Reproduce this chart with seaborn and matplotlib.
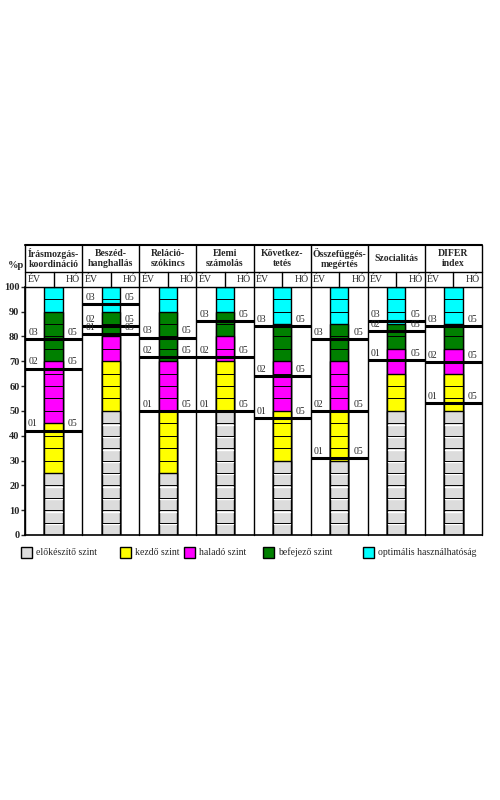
import matplotlib
matplotlib.use('Agg')
import matplotlib.pyplot as plt
from matplotlib.patches import Rectangle
import seaborn as sns
import pandas as pd
import numpy as np

# ---------------- data ----------------
categories = ["Írásmozgás-\nkoordináció", "Beszéd-\nhanghallás", "Reláció-\nszókincs",
              "Elemi\nszámolás", "Következ-\ntetés", "Összefüggés-\nmegértés",
              "Szocialitás", "DIFER\nindex"]
gray_top = [25, 50, 25, 50, 30, 30, 50, 50]
yellow_top = [45, 70, 50, 70, 50, 50, 65, 65]
magenta_top = [70, 80, 70, 80, 70, 70, 75, 75]
green_top = [90, 90, 90, 90, 85, 85, 85, 85]
cyan_top = [100, 100, 100, 100, 100, 100, 100, 100]
level_01 = [42, 81, 50, 50, 47, 31, 70.5, 53]
level_02 = [67, 84, 71.5, 71.5, 64, 50, 82, 69.5]
level_03 = [79, 93, 79.5, 86, 84, 79, 86, 84]
level_names = ["01", "02", "03"]
right_label = "05"
sub_headers = ["ÉV", "HÓ"]
yticks = list(range(0, 101, 10))
y_unit = "%p"
legend_labels = ["előkészítő szint", "kezdő szint", "haladó szint",
                 "befejező szint", "optimális használhatóság"]
colors = ['#dcdcdc', '#ffff00', '#ff00ff', '#008000', '#00ffff']

# ---------------- style ----------------
sns.set_theme(style='white')
plt.rcParams['font.family'] = ['Liberation Serif', 'DejaVu Serif']

fig = plt.figure(figsize=(5, 8), dpi=100)
fig.patch.set_facecolor('white')
ax = fig.add_axes([25 / 500, 1 - 535 / 800, 457 / 500, 248.3 / 800])

keys = [c.replace("\n", " ") for c in categories]
df = pd.DataFrame({'cat': keys, 'gray': gray_top, 'yellow': yellow_top,
                   'magenta': magenta_top, 'green': green_top, 'cyan': cyan_top})

bw = 0.32
for col, c in zip(['cyan', 'green', 'magenta', 'yellow', 'gray'], colors[::-1]):
    sns.barplot(data=df, x='cat', y=col, color=c, saturation=1, width=bw,
                edgecolor='black', linewidth=1.0, ax=ax, zorder=2)

# block separators every 5 units
for i in range(len(keys)):
    for y in range(5, 100, 5):
        if y < gray_top[i]:
            ax.plot([i - bw / 2 + 0.02, i + bw / 2 - 0.02], [y - 0.6, y - 0.6],
                    color='white', lw=1.0, zorder=3)
        ax.plot([i - bw / 2, i + bw / 2], [y, y], color='black', lw=0.7, zorder=3)

# level lines and labels
for i in range(len(keys)):
    for name, lv in zip(level_names, [level_01[i], level_02[i], level_03[i]]):
        ax.plot([i - 0.5, i + 0.5], [lv, lv], color='black', lw=2.2, zorder=5,
                solid_capstyle='butt')
        ax.text(i - 0.36, lv + 0.9, name, ha='center', va='bottom', fontsize=7,
                zorder=6)
        ax.text(i + 0.33, lv + 0.9, right_label, ha='center', va='bottom',
                fontsize=7, zorder=6)

ax.set_xlim(-0.5, len(keys) - 0.5)
ax.set_ylim(0, 100)
ax.set_xlabel('')
ax.set_ylabel('')
ax.set_xticks([])
ax.set_yticks(yticks)
ax.set_yticklabels([str(t) for t in yticks], fontsize=7.5, fontweight='bold')
ax.tick_params(axis='y', direction='out', length=3, width=1, pad=1, left=True)
for s in ['top', 'right']:
    ax.spines[s].set_visible(False)
for s in ['left', 'bottom']:
    ax.spines[s].set_color('black')
    ax.spines[s].set_linewidth(1.2)

# header / column frame
h1 = 100
h2 = 105.9
h3 = 116.8
n = len(keys)
for b in np.arange(-0.5, n, 1.0):
    ax.plot([b, b], [0, h3], color='black', lw=1.0, clip_on=False, zorder=4)
for yy, lw in [(h1, 1.0), (h2, 1.0), (h3, 1.5)]:
    ax.plot([-0.5, n - 0.5], [yy, yy], color='black', lw=lw, clip_on=False, zorder=4)
for i, name in enumerate(categories):
    ax.plot([i, i], [h1, h2], color='black', lw=1.0, clip_on=False, zorder=4)
    ax.text(i - 0.46, (h1 + h2) / 2, sub_headers[0], ha='left', va='center',
            fontsize=7, clip_on=False)
    ax.text(i + 0.46, (h1 + h2) / 2, sub_headers[1], ha='right', va='center',
            fontsize=7, clip_on=False)
    ax.text(i, (h2 + h3) / 2, name, ha='center', va='center', fontsize=7,
            fontweight='bold', linespacing=1.1, clip_on=False)

fig.text(8 / 500, 1 - 266 / 800, y_unit, ha='left', va='center', fontsize=7.5,
         fontweight='bold')

# legend
leg_x = [21, 120, 184, 263, 363]
for x, lab, c in zip(leg_x, legend_labels, colors):
    fig.patches.append(Rectangle((x / 500, 1 - 558 / 800), 11 / 500, 11 / 800,
                                 transform=fig.transFigure, facecolor=c,
                                 edgecolor='black', lw=1.0))
    fig.text((x + 15) / 500, 1 - 552.5 / 800, lab, ha='left', va='center',
             fontsize=7)

fig.savefig('out.png', dpi=100, facecolor='white')
